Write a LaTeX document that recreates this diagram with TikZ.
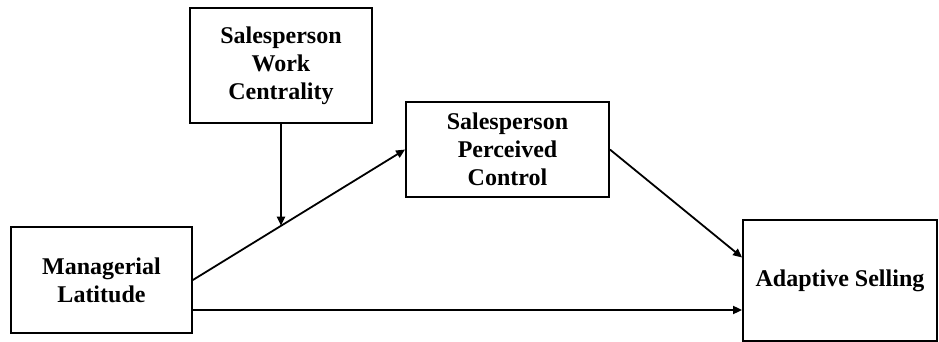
\documentclass[tikz,border=0pt]{standalone}
\usepackage{fontspec}
\setmainfont{Liberation Serif}
\usetikzlibrary{positioning}
\usetikzlibrary{arrows.meta}
\tikzset{	x=0.5pt, y=-0.5pt,
	var/.style={
		draw,
		line width=0.9pt,
		align=center,
		inner sep=0pt,
		font=\fontsize{12}{14}\selectfont\bfseries},
	every edge/.style={
		draw,
		-{Triangle[length=4.5pt,width=4pt]},
		line width=0.9pt}
}
\begin{document}
\begin{tikzpicture}
					\useasboundingbox (0,0) rectangle (939,342);
					\node[var, minimum width=91pt, minimum height=57.5pt] (SWC) at (281,65.5) {Salesperson\\Work\\Centrality};
					\node[var, minimum width=101.5pt, minimum height=47.5pt] (SPC) at (507.5,149.5) {Salesperson\\Perceived\\Control};
					\node[var, minimum width=90.5pt, minimum height=53pt] (ML) at (101.5,280) {Managerial\\Latitude};
					\node[var, minimum width=97pt, minimum height=60.5pt] (AS) at (840,280.5) {Adaptive Selling};
					\draw (ML.east) edge (SPC.west);
					\path (ML.east) -- (SPC.west) coordinate[pos=0.416] (join);
					\draw (SWC.south) edge (SWC.south |- join);
					\draw (SPC.east) edge ([yshift=11.5pt]AS.west);
					\draw ([yshift=-15pt]ML.east) edge ([yshift=-15pt]ML.east -| AS.west);
				\end{tikzpicture}
\end{document}
